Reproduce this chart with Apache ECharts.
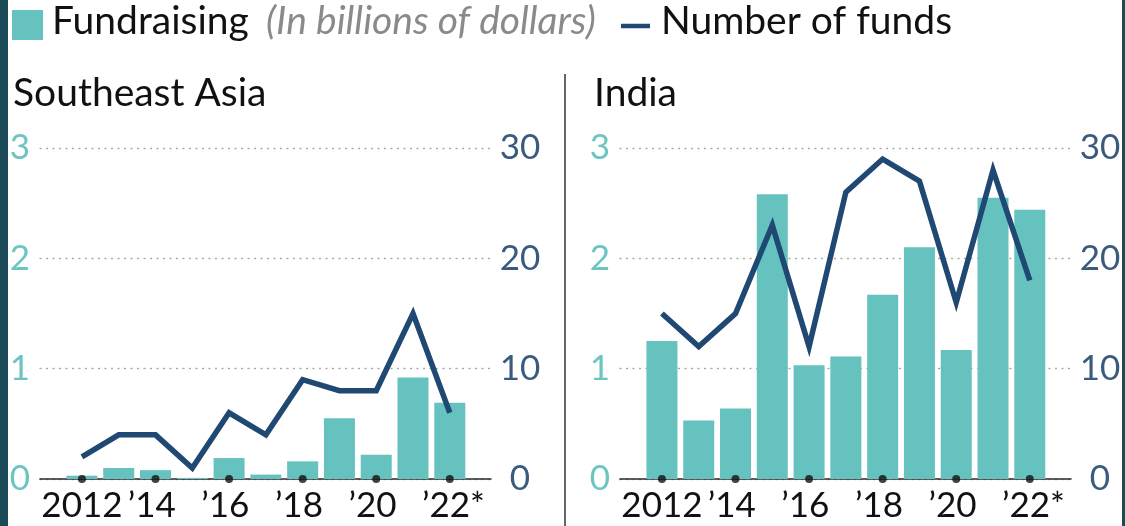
<!DOCTYPE html>
<html>
<head>
<meta charset="utf-8">
<script src="https://cdn.jsdelivr.net/npm/echarts@6/dist/echarts.min.js"></script>
<style>
html,body{margin:0;padding:0;background:#fff;}
#chart{width:1125px;height:526px;}
</style>
</head>
<body>
<div id="chart"></div>
<script>
// ---- data ----
const years = [2012, 2013, 2014, 2015, 2016, 2017, 2018, 2019, 2020, 2021, 2022];
const seaFundraising = [0.03, 0.10, 0.08, 0.01, 0.19, 0.04, 0.16, 0.55, 0.22, 0.92, 0.69];
const seaFunds = [2, 4, 4, 1, 6, 4, 9, 8, 8, 15, 6];
const indiaFundraising = [1.25, 0.53, 0.64, 2.58, 1.03, 1.11, 1.67, 2.10, 1.17, 2.55, 2.44];
const indiaFunds = [15, 12, 15, 23, 12, 26, 29, 27, 16, 28, 18];
const tickYears = [2012, 2014, 2016, 2018, 2020, 2022];
const tickLabels = ['2012', '\u201914', '\u201916', '\u201918', '\u201920', '\u201922*'];
const leftTicks = [0, 1, 2, 3];
const rightTicks = [0, 10, 20, 30];
const panelTitles = ['Southeast Asia', 'India'];

// ---- style ----
const FONT = 'Lato';
const TEAL = '#66c2be';
const TEAL_TXT = '#6cc5c1';
const NAVY = '#1f4873';
const NAVY_TXT = '#3a5a7e';
const STRIP = '#1b4a59';

const chart = echarts.init(document.getElementById('chart'), null, {renderer: 'canvas'});

function xLabel(v) {
  const i = tickYears.indexOf(Math.round(v));
  if (i < 0) return '';
  const s = tickLabels[i];
  const m = s.match(/^(\D*)(\d+)(\D*)$/);
  if (!m) return s;
  return (m[3] ? '{h|' + m[3] + '}' : '') + s + (m[1] ? '{h|' + m[1] + '}' : '');
}

const grids = [
  {left: 40, width: 451, top: 148, height: 331},
  {left: 620, width: 451, top: 148, height: 331}
];

const xAxes = [], yAxes = [], series = [];
const panels = [[seaFundraising, seaFunds], [indiaFundraising, indiaFunds]];
panels.forEach((p, g) => {
  xAxes.push({
    type: 'value', gridIndex: g, min: 2010.86, max: 2023.12,
    axisLine: {show: true, onZero: false, lineStyle: {color: '#2a2a2a', width: 1.5}},
    axisTick: {show: false},
    splitLine: {show: false},
    axisLabel: {
      customValues: tickYears, margin: 9, color: '#111',
      fontFamily: FONT, fontSize: 35, formatter: xLabel,
      rich: {h: {color: 'rgba(0,0,0,0)', fontFamily: FONT, fontSize: 35}}
    }
  });
  yAxes.push({
    type: 'value', gridIndex: g, position: 'left', min: 0, max: 3, interval: 1,
    axisLine: {show: false}, axisTick: {show: false},
    axisLabel: {color: TEAL_TXT, fontFamily: FONT, fontSize: 35, margin: 20, align: 'center',
      customValues: leftTicks},
    splitLine: {show: true, lineStyle: {color: '#a8a8a8', width: 1.3, type: [1, 5.5], cap: 'round'}}
  });
  yAxes.push({
    type: 'value', gridIndex: g, position: 'right', min: 0, max: 30, interval: 10,
    axisLine: {show: false}, axisTick: {show: false},
    axisLabel: {color: NAVY_TXT, fontFamily: FONT, fontSize: 35, margin: 29, align: 'center',
      customValues: rightTicks},
    splitLine: {show: false}
  });
  series.push({
    name: 'Fundraising', type: 'bar', xAxisIndex: g, yAxisIndex: g * 2,
    data: years.map((y, i) => [y, p[0][i]]), barWidth: 31,
    itemStyle: {color: TEAL}, silent: true, z: 2
  });
  series.push({
    name: 'Number of funds', type: 'line', xAxisIndex: g, yAxisIndex: g * 2 + 1,
    data: years.map((y, i) => [y, p[1][i]]), showSymbol: false, symbol: 'none',
    lineStyle: {color: NAVY, width: 5.5, join: 'miter', cap: 'butt'},
    silent: true, z: 4
  });
  series.push({
    type: 'scatter', xAxisIndex: g, yAxisIndex: g * 2,
    data: tickYears.map(y => [y, 0]), symbol: 'circle', symbolSize: 8,
    itemStyle: {color: '#111'}, clip: false, silent: true, z: 6
  });
});

chart.setOption({
  animation: false,
  backgroundColor: '#fff',
  title: [
    {text: panelTitles[0], left: 8, top: 69, textStyle: {fontFamily: FONT, fontSize: 39, fontWeight: 'normal', color: '#111'}},
    {text: panelTitles[1], left: 589, top: 69, textStyle: {fontFamily: FONT, fontSize: 39, fontWeight: 'normal', color: '#111'}}
  ],
  grid: grids,
  xAxis: xAxes,
  yAxis: yAxes,
  series: series,
  graphic: [
    {type: 'rect', left: 0, top: 0, shape: {width: 8, height: 526}, style: {fill: STRIP}, silent: true},
    {type: 'rect', left: 1122, top: 0, shape: {width: 3, height: 526}, style: {fill: STRIP}, silent: true},
    {type: 'line', shape: {x1: 565, y1: 74, x2: 565, y2: 526}, style: {stroke: '#333', lineWidth: 1.5}, silent: true},
    {type: 'rect', left: 12, top: 10, shape: {width: 31, height: 30}, style: {fill: TEAL}, silent: true},
    {type: 'text', left: 52, top: 2, style: {text: 'Fundraising', font: '39px ' + FONT, fill: '#111'}, silent: true},
    {type: 'text', left: 266, top: 2, style: {text: '(In billions of dollars)', font: 'italic 39px ' + FONT, fill: '#8a8a8a'}, silent: true},
    {type: 'line', shape: {x1: 621, y1: 26, x2: 650, y2: 26}, style: {stroke: NAVY, lineWidth: 4.5}, silent: true},
    {type: 'text', left: 661, top: 2, style: {text: 'Number of funds', font: '39px ' + FONT, fill: '#111'}, silent: true}
  ]
});
</script>
</body>
</html>
